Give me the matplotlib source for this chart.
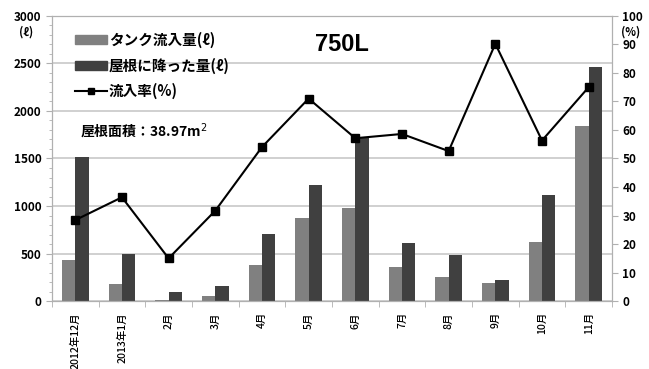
import numpy as np
import matplotlib
matplotlib.use("Agg")
import matplotlib.pyplot as plt
from matplotlib.patches import Patch
from matplotlib.lines import Line2D

plt.rcParams['font.family'] = ['Noto Sans CJK JP', 'DejaVu Sans']

months = ["2012年12月", "2013年1月", "2月", "3月", "4月", "5月",
          "6月", "7月", "8月", "9月", "10月", "11月"]
tank_inflow = [432, 175, 15, 57, 382, 870, 975, 361, 253, 193, 624, 1845]
roof_rain = [1520, 491, 98, 162, 709, 1225, 1716, 614, 481, 218, 1112, 2463]
inflow_rate = [28.4, 36.4, 15.0, 31.7, 54.0, 71.0, 57.1, 58.6, 52.6, 90.2, 56.3, 75.0]

LIGHT = "#808080"
DARK = "#404040"
GRID = "#c8c8c8"

fig = plt.figure(figsize=(6.49, 3.69), dpi=100)
ax = fig.add_axes([0.080, 0.184, 0.863, 0.773])
x = np.arange(len(months))
w = 0.285
ax.bar(x - w / 2, tank_inflow, w, color=LIGHT, zorder=2)
ax.bar(x + w / 2, roof_rain, w, color=DARK, zorder=2)
ax.set_xlim(-0.5, len(months) - 0.5)
ax.set_ylim(0, 3000)
ax.set_yticks(np.arange(0, 3001, 500))
ax.set_yticks(np.arange(0, 3001, 100), minor=True)
ax.yaxis.grid(True, color=GRID, lw=1.2, zorder=0)
ax.set_axisbelow(True)
for s in ax.spines.values():
    s.set_color("#b0b0b0")
ax.tick_params(axis='y', which='major', length=4, color="#b0b0b0", labelsize=8.5)
ax.tick_params(axis='y', which='minor', length=2, color="#b0b0b0")
for lab in ax.get_yticklabels():
    lab.set_fontweight('bold')
ax.set_xticks(x)
ax.set_xticklabels(months, rotation=90, fontsize=7.5, fontweight='medium')
ax.set_xticks(np.arange(-0.5, len(months), 1), minor=True)
ax.tick_params(axis='x', which='major', length=0, pad=8)
ax.tick_params(axis='x', which='minor', length=4, color="#b0b0b0")

ax2 = ax.twinx()
ax2.plot(x, inflow_rate, color="black", lw=1.5, marker="s", ms=6, zorder=3)
ax2.set_ylim(0, 100)
ax2.set_yticks(np.arange(0, 101, 10))
ax2.tick_params(axis='y', length=4, color="#b0b0b0", labelsize=8.5)
for lab in ax2.get_yticklabels():
    lab.set_fontweight('bold')
for s in ax2.spines.values():
    s.set_color("#b0b0b0")

fig.text(0.040, 0.912, "(ℓ)", fontsize=8, fontweight='bold',
         ha='center', va='center')
fig.text(0.972, 0.912, "(%)", fontsize=8, fontweight='bold',
         ha='center', va='center')

handles = [Patch(color=LIGHT), Patch(color=DARK),
           Line2D([], [], color="black", lw=1.5, marker="s", ms=5)]
labels = ["タンク流入量(ℓ)", "屋根に降った量(ℓ)", "流入率(%)"]
ax.legend(handles, labels, loc="upper left", bbox_to_anchor=(0.03, 0.965),
          frameon=False, handlelength=2.2, handleheight=0.55,
          handletextpad=0.15, labelspacing=0.65, borderaxespad=0,
          prop={'weight': 'bold', 'size': 10.5})
ax.text(0.518, 0.90, "750L", transform=ax.transAxes, fontsize=17,
        fontweight='bold', ha='center', va='center',
        family=['Liberation Sans', 'DejaVu Sans'])
ax.text(0.05, 0.595, "屋根面積：38.97m$^2$", transform=ax.transAxes,
        fontsize=10, fontweight='bold', ha='left', va='center')

fig.savefig("out.png", dpi=100)
